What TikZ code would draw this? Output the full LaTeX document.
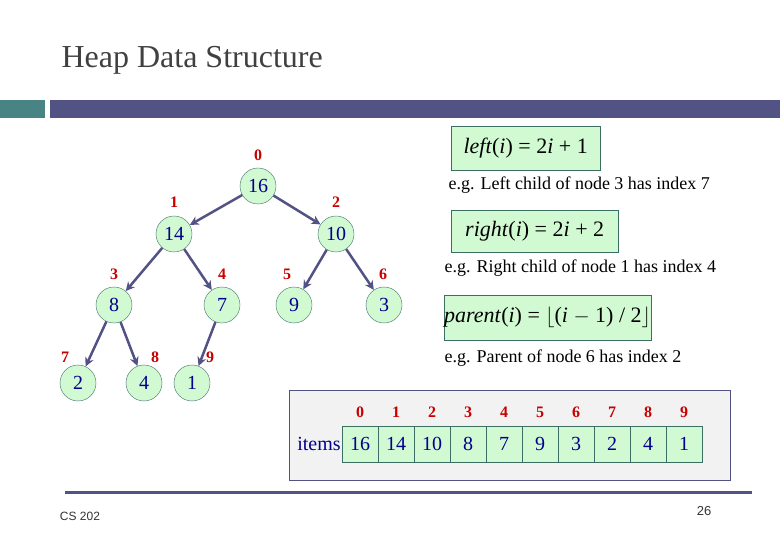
\documentclass[tikz,border=0pt]{standalone}
\usepackage{fontspec}
\setmainfont{Liberation Serif}
\newfontfamily\footfont{Liberation Sans}
\usetikzlibrary{arrows.meta}
\definecolor{barpurple}{RGB}{82,82,132}
\definecolor{barteal}{RGB}{72,132,132}
\definecolor{nodegreen}{RGB}{210,250,210}
\definecolor{nodeedge}{RGB}{60,110,100}
\definecolor{numblue}{RGB}{0,0,140}
\definecolor{idxred}{RGB}{200,0,0}
\definecolor{panelgray}{RGB}{242,242,242}
\tikzset{
  hn/.style={circle,draw=nodeedge,fill=nodegreen,minimum size=36pt,inner sep=0pt,text=numblue,font=\fontsize{20}{20}\selectfont},
  idx/.style={text=idxred,font=\fontsize{16}{16}\selectfont\bfseries},
  edge/.style={draw=barpurple,line width=2.5pt,-{Stealth[length=9pt,width=9pt]}},
  fbox/.style={draw=nodeedge,fill=nodegreen,anchor=north west,inner sep=0pt},
  eg/.style={font=\fontsize{18}{18}\selectfont,anchor=west},
  cell/.style={draw=nodeedge,fill=nodegreen,minimum width=36pt,minimum height=36pt,inner sep=0pt,text=numblue,font=\fontsize{20}{20}\selectfont}
}
\begin{document}
\begin{tikzpicture}[x=1pt,y=-1pt]
\useasboundingbox (0,0) rectangle (780,540);
\node[anchor=west,font=\fontsize{32}{32}\selectfont,text=black!75] (title) at (58,60) {Heap Data Structure};
\fill[barteal] (0,100) rectangle (45,118);
\fill[barpurple] (50,100) rectangle (780,118);
% tree
\node[hn] (n0) at (258,186) {16};
\node[hn] (n1) at (174,234) {14};
\node[hn] (n2) at (336,234) {10};
\node[hn] (n3) at (114,305) {8};
\node[hn] (n4) at (222,305) {7};
\node[hn] (n5) at (294,305) {9};
\node[hn] (n6) at (384,305) {3};
\node[hn] (n7) at (78,383) {2};
\node[hn] (n8) at (144,383) {4};
\node[hn] (n9) at (192,383) {1};
\node[idx] (l0) at (258,155) {0};
\node[idx] (l1) at (174,202) {1};
\node[idx] (l2) at (336,202) {2};
\node[idx] (l3) at (114,274) {3};
\node[idx] (l4) at (222,274) {4};
\node[idx] (l5) at (287,274) {5};
\node[idx] (l6) at (383,274) {6};
\node[idx] (l7) at (65,357) {7};
\node[idx] (l8) at (155,357) {8};
\node[idx] (l9) at (210,357) {9};
\draw[edge] (n0) -- (n1);
\draw[edge] (n0) -- (n2);
\draw[edge] (n1) -- (n3);
\draw[edge] (n1) -- (n4);
\draw[edge] (n2) -- (n5);
\draw[edge] (n2) -- (n6);
\draw[edge] (n3) -- (n7);
\draw[edge] (n3) -- (n8);
\draw[edge] (n4) -- (n9);
% formulas
\node[fbox,minimum width=149pt,minimum height=44pt] (f1) at (451,126) {\fontsize{22}{22}\selectfont\textit{left}(\textit{i}) = 2\textit{i} + 1};
\node[eg] (e1) at (445,185) {e.g. Left child of node 3 has index 7};
\node[fbox,minimum width=167pt,minimum height=42pt] (f2) at (451,210) {\fontsize{22}{22}\selectfont\textit{right}(\textit{i}) = 2\textit{i} + 2};
\node[eg] (e2) at (441,268) {e.g. Right child of node 1 has index 4};
\node[fbox,minimum width=198pt,minimum height=45pt] (f3) at (444,295) {\fontsize{22}{22}\selectfont\textit{parent}(\textit{i}) = $\lfloor$(\textit{i} $-$ 1) / 2$\rfloor$};
\node[eg] (e3) at (441,358) {e.g. Parent of node 6 has index 2};
% array panel
\node[draw=barpurple,fill=panelgray,anchor=north west,minimum width=441pt,minimum height=90pt,inner sep=0pt] (panel) at (289,390) {};
\foreach \v [count=\i from 0] in {16,14,10,8,7,9,3,2,4,1} {
  \node[cell] (c\i) at (360+36*\i,444) {\v};
  \node[idx] (a\i) at (360+36*\i,412) {\i};
}
\node[anchor=east,text=numblue,font=\fontsize{20}{20}\selectfont,inner sep=1pt] (items) at (c0.west) {items};
% footer
\draw[barpurple,line width=3pt] (65,492) -- (752,492);
\node[font=\footfont\fontsize{12}{12}\selectfont,text=black!80] (cs) at (80,516) {CS 202};
\node[font=\footfont\fontsize{13}{13}\selectfont,text=black!80] (pg) at (704,511) {26};
\end{tikzpicture}
\end{document}
